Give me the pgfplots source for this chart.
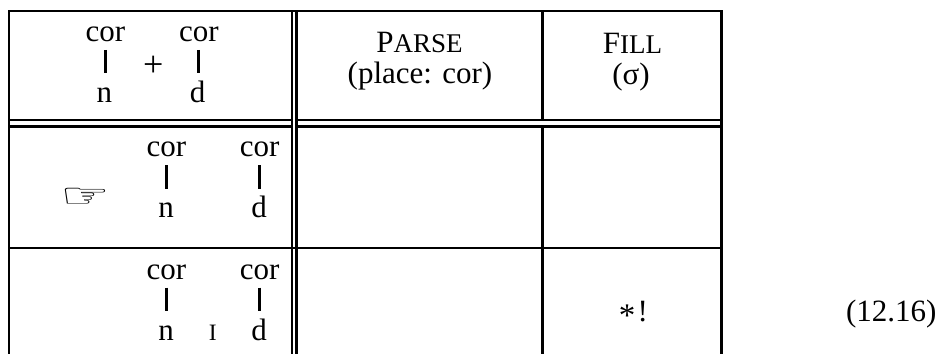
\documentclass[border=0pt]{standalone}
\usepackage{pgfplots}
\usepackage{fontspec}
\pgfplotsset{compat=1.18}
\setmainfont{Liberation Serif}
\newfontfamily\djsans{DejaVu Sans}
\newcommand{\fa}{\fontsize{31bp}{34bp}\selectfont}
\newcommand{\fb}{\fontsize{27bp}{30bp}\selectfont}
\newcommand{\fc}{\fontsize{23.5bp}{26bp}\selectfont}
\begin{document}
\begin{tikzpicture}
\useasboundingbox (0,0) rectangle (940bp,354bp);
\begin{axis}[at={(0,0)},anchor=south west,scale only axis,width=940bp,height=354bp,
  xmin=0,xmax=940,ymin=0,ymax=354,y dir=reverse,hide axis,clip=true,
  tl/.style={black,line width=2.6bp,mark=none,forget plot,line cap=butt,line join=miter},
  al/.style={black,line width=3bp,mark=none,forget plot}]
% outer frame and rules
\addplot[tl] coordinates {(9,354) (9,11) (721.3,11) (721.3,354)};
\addplot[tl] coordinates {(9,120) (292,120)};
\addplot[tl] coordinates {(9,126.5) (292,126.5)};
\addplot[tl] coordinates {(296.7,120) (721.3,120)};
\addplot[tl] coordinates {(296.7,126.5) (721.3,126.5)};
\addplot[tl] coordinates {(292,11) (292,354)};
\addplot[tl] coordinates {(296.7,11) (296.7,354)};
\addplot[tl] coordinates {(542.5,11) (542.5,119)};
\addplot[tl] coordinates {(542.5,127) (542.5,354)};
\addplot[tl] coordinates {(9,248) (721.3,248)};
% association lines
\addplot[al] coordinates {(105,50) (105,73)};
\addplot[al] coordinates {(198.7,50) (198.7,73)};
\addplot[al] coordinates {(166.3,165) (166.3,188.5)};
\addplot[al] coordinates {(259.7,165) (259.7,188.5)};
\addplot[al] coordinates {(166.3,287.7) (166.3,311)};
\addplot[al] coordinates {(259.7,287.7) (259.7,311)};
% text
\begin{scope}[every node/.style={anchor=base,inner sep=0pt,font=\fa,black}]
\node at (axis cs:105.5,41.7) {cor};
\node at (axis cs:199,41.7) {cor};
\node at (axis cs:104.5,102.7) {n};
\node at (axis cs:197.7,102.7) {d};
\node at (axis cs:153.3,76) {\fontsize{36bp}{40bp}\selectfont +};
\node at (axis cs:166.3,156.7) {cor};
\node at (axis cs:259.7,156.7) {cor};
\node at (axis cs:166,217.7) {n};
\node at (axis cs:259,217.7) {d};
\node at (axis cs:85.5,207.5) {\scalebox{1.07}[0.65]{\fontsize{52bp}{56bp}\selectfont\djsans ☞}};
\node at (axis cs:166.3,279) {cor};
\node at (axis cs:259.7,279) {cor};
\node at (axis cs:166,340.7) {n};
\node at (axis cs:259,340.7) {d};
\node at (axis cs:212.7,340.7) {\fc I};
\node at (axis cs:419.5,52.7) {P{\fb ARSE}};
\node at (axis cs:420,83.3) {(place: cor)};
\node at (axis cs:632.5,53) {F{\fb ILL}};
\node at (axis cs:631,84) {(σ)};
\node at (axis cs:627,326.5) {\fontsize{33bp}{36bp}\selectfont *};
\node at (axis cs:642.7,321.7) {!};
\node at (axis cs:891.3,321.7) {(12.16)};
\end{scope}
\end{axis}
\end{tikzpicture}
\end{document}
